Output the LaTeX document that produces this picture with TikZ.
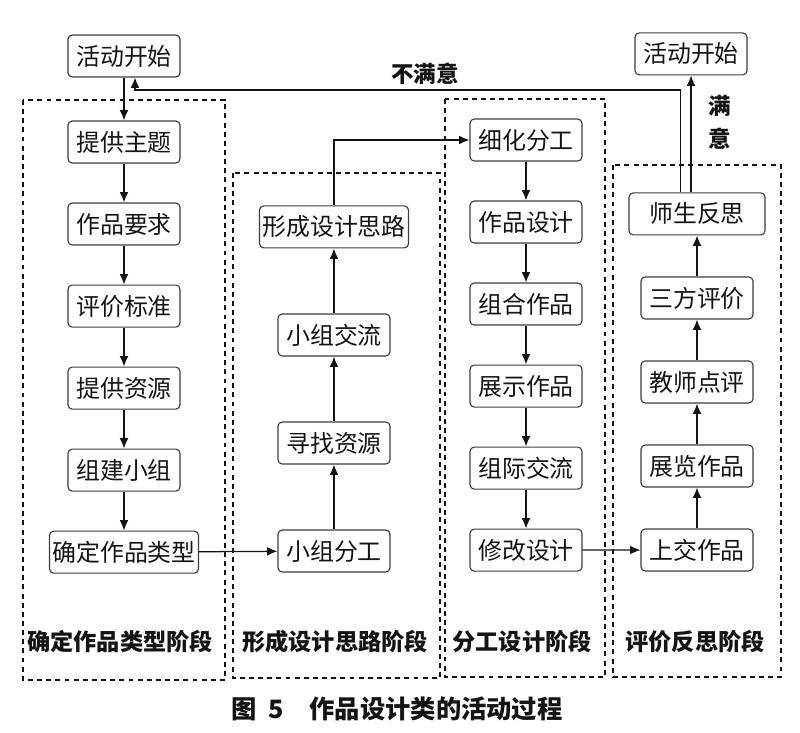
\documentclass[tikz,border=0pt]{standalone}
\usepackage{fontspec}
\setmainfont{Noto Sans CJK SC}
\usepackage{xcolor}
\usepackage{tikz}
\usetikzlibrary{arrows.meta,positioning,calc}
\definecolor{negrotinta}{RGB}{20,20,20}
\definecolor{grisborde}{RGB}{60,60,60}

\begin{document}
\begin{tikzpicture}[x=0.025cm, y=-0.025cm, node distance=2.05cm,
    caja/.style={rectangle, rounded corners=3pt, draw=grisborde, line width=0.8pt,
                 minimum width=2.8cm, minimum height=1.05cm, inner sep=2pt,
                 text centered, font=\fontsize{17}{20}\selectfont, text=negrotinta},
    etapa/.style={draw=negrotinta, line width=0.8pt, dash pattern=on 3.5pt off 3pt},
    titulo/.style={font=\fontsize{16.5}{20}\selectfont\bfseries, text=negrotinta},
    flecha/.style={-{Latex[length=2.6mm, width=2.2mm]}, line width=0.9pt, color=negrotinta}
  ]
    \useasboundingbox (0,0) rectangle (800,732);

    % etapas
    \draw[etapa] (23,100) rectangle (225,680);
    \draw[etapa] (233,173) rectangle (440,678);
    \draw[etapa] (445,99) rectangle (605,677);
    \draw[etapa] (613,165) rectangle (781,677);

    % columna 1
    \node[caja] (inicio) at (124,56) {活动开始};
    \node[caja, below of=inicio, node distance=2.15cm] (tema) {提供主题};
    \node[caja, below of=tema] (requisito) {作品要求};
    \node[caja, below of=requisito] (criterio) {评价标准};
    \node[caja, below of=criterio] (recurso) {提供资源};
    \node[caja, below of=recurso] (grupo) {组建小组};
    \node[caja, below of=grupo] (tipo) {确定作品类型};

    % columna 2
    \node[caja] (reparto) at (334,551) {小组分工};
    \node[caja, above of=reparto, node distance=2.7cm] (buscar) {寻找资源};
    \node[caja, above of=buscar, node distance=2.7cm] (intercambio) {小组交流};
    \node[caja, above of=intercambio, node distance=2.7cm] (idea) {形成设计思路};

    % columna 3
    \node[caja] (division) at (526,140) {细化分工};
    \node[caja, below of=division] (diseno) {作品设计};
    \node[caja, below of=diseno] (combinar) {组合作品};
    \node[caja, below of=combinar] (mostrar) {展示作品};
    \node[caja, below of=mostrar] (intergrupo) {组际交流};
    \node[caja, below of=intergrupo] (revisar) {修改设计};

    % columna 4
    \node[caja] (entregar) at (697,550) {上交作品};
    \node[caja, above of=entregar, node distance=2.1cm] (exponer) {展览作品};
    \node[caja, above of=exponer, node distance=2.1cm] (profesor) {教师点评};
    \node[caja, above of=profesor, node distance=2.1cm] (tripartita) {三方评价};
    \node[caja, above of=tripartita, node distance=2.1cm, minimum width=3.4cm] (reflexion) {师生反思};
    \node[caja, above of=reflexion, node distance=4cm, xshift=-0.15cm] (fin) {活动开始};

    % titulos de etapa
    \node[titulo] (etapa1) at (120,642) {确定作品类型阶段};
    \node[titulo] (etapa2) at (335,642) {形成设计思路阶段};
    \node[titulo] (etapa3) at (522,642) {分工设计阶段};
    \node[titulo] (etapa4) at (695,642) {评价反思阶段};
    \node[font=\fontsize{18}{20}\selectfont\bfseries, text=negrotinta] (pie) at (397,709)
        {图\hspace{0.3cm}5\quad 作品设计类的活动过程};

    % flechas
    \draw[flecha] (inicio) -- (tema);
    \draw[flecha] (tema) -- (requisito);
    \draw[flecha] (requisito) -- (criterio);
    \draw[flecha] (criterio) -- (recurso);
    \draw[flecha] (recurso) -- (grupo);
    \draw[flecha] (grupo) -- (tipo);
    \draw[flecha] (tipo) -- (reparto);
    \draw[flecha] (reparto) -- (buscar);
    \draw[flecha] (buscar) -- (intercambio);
    \draw[flecha] (intercambio) -- (idea);
    \draw[flecha] (idea.north) |- (division.west);
    \draw[flecha] (division) -- (diseno);
    \draw[flecha] (diseno) -- (combinar);
    \draw[flecha] (combinar) -- (mostrar);
    \draw[flecha] (mostrar) -- (intergrupo);
    \draw[flecha] (intergrupo) -- (revisar);
    \draw[flecha] (revisar) -- (entregar);
    \draw[flecha] (entregar) -- (exponer);
    \draw[flecha] (exponer) -- (profesor);
    \draw[flecha] (profesor) -- (tripartita);
    \draw[flecha] (tripartita) -- (reflexion);

    % retorno
    \coordinate (giro) at (135,90);
    \draw[flecha] ([xshift=-0.42cm]reflexion.north) |- node[pos=0.734, above, titulo, font=\fontsize{16}{20}\selectfont\bfseries] (nosatisf) {不满意} (giro) -- (giro |- inicio.south);
    \draw[flecha] (reflexion.north -| fin.south) -- node[pos=0.6, right=0.3cm, align=center, font=\fontsize{16}{23}\selectfont\bfseries, text=negrotinta] (satisf) {满\\意} (fin.south);
  \end{tikzpicture}
\end{document}
